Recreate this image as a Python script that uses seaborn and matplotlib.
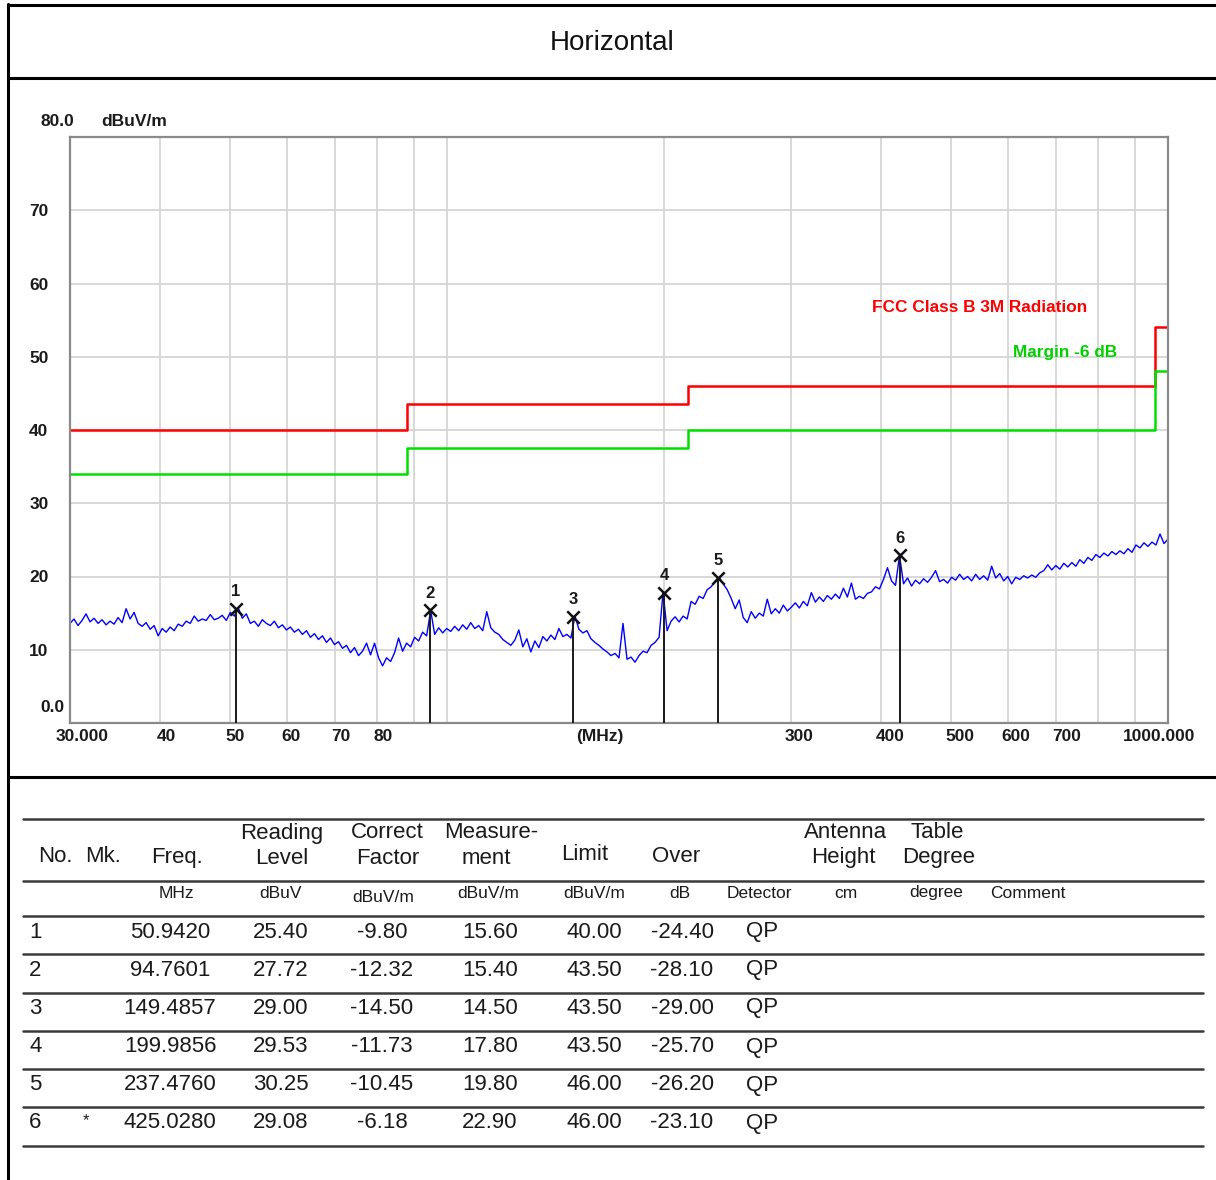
import numpy as np
import pandas as pd
import matplotlib
matplotlib.use("Agg")
import matplotlib.pyplot as plt
import matplotlib.ticker as mticker
import matplotlib.transforms as mtransforms
from matplotlib.lines import Line2D
import seaborn as sns

sns.set_theme(style="white")
plt.rcParams["font.family"] = ["Liberation Sans", "DejaVu Sans"]

# ---------------------------------------------------------------- data
# Swept peak readout in dBuV/m, one value per log-spaced sweep point, 30 MHz -> 1000 MHz
trace_level = [
    13.6, 14.2, 13.3, 14.0, 14.9, 13.8, 14.3, 13.6, 14.1, 13.4, 13.9, 13.5, 14.4,
    13.7, 15.6, 14.2, 15.1, 13.6, 13.2, 13.7, 12.8, 13.3, 11.9, 12.9, 12.4,
    13.1, 12.6, 13.5, 13.2, 13.9, 13.6, 14.6, 13.9, 14.2, 14.0, 14.8, 14.1, 14.3,
    14.7, 14.0, 15.1, 14.6, 15.7, 14.3, 14.9, 13.6, 13.9, 13.2, 14.1, 13.6,
    13.3, 13.9, 13.0, 13.4, 12.7, 13.1, 12.4, 12.8, 12.1, 12.6, 11.7, 12.2, 11.4,
    11.9, 11.0, 11.6, 10.7, 11.1, 10.2, 10.6, 9.6, 10.3, 9.2, 9.8, 10.9,
    9.3, 10.9, 8.9, 7.8, 8.9, 8.4, 9.6, 11.6, 9.8, 10.9, 10.4, 11.7, 11.2,
    12.4, 11.9, 15.4, 12.1, 13.0, 12.3, 12.9, 12.5, 13.2, 12.6, 13.4, 12.8,
    13.7, 12.9, 13.3, 12.6, 15.2, 13.0, 12.4, 12.1, 11.4, 11.0, 10.6, 11.3, 12.7,
    10.4, 11.5, 9.7, 11.2, 10.3, 11.8, 11.2, 12.0, 11.4, 12.9, 11.8, 12.1,
    11.6, 14.6, 12.8, 12.3, 12.6, 11.5, 11.0, 10.6, 10.1, 9.7, 9.2, 9.5, 8.9,
    13.6, 8.7, 9.0, 8.3, 9.2, 9.8, 9.6, 10.6, 11.0, 11.7, 17.9, 12.6,
    13.9, 14.5, 13.8, 14.6, 14.2, 16.6, 16.2, 17.3, 17.0, 18.2, 18.6, 19.4, 19.9,
    19.0, 18.2, 17.0, 15.6, 16.8, 14.4, 13.7, 15.2, 14.3, 15.0, 14.6, 16.9,
    14.9, 15.6, 15.0, 16.1, 15.3, 15.8, 16.4, 15.7, 16.6, 16.0, 17.8, 16.5, 17.2,
    16.6, 17.4, 16.9, 17.6, 17.0, 18.4, 17.2, 19.1, 16.9, 17.3, 17.0, 17.7,
    17.9, 18.6, 18.3, 19.6, 21.2, 19.4, 18.8, 22.9, 19.0, 19.8, 18.7, 19.5, 19.0,
    19.7, 19.2, 19.9, 20.8, 19.3, 19.6, 19.1, 19.9, 19.5, 20.3, 19.6, 20.0,
    19.4, 20.3, 19.6, 20.1, 19.5, 21.4, 19.8, 20.4, 19.4, 20.0, 19.0, 19.9, 19.6,
    20.1, 19.8, 20.2, 19.9, 20.5, 20.8, 21.6, 20.9, 21.5, 21.0, 21.8, 21.3,
    21.9, 21.4, 22.3, 21.8, 22.6, 22.2, 23.0, 22.6, 23.2, 22.8, 23.4, 23.0, 23.5,
    23.1, 23.8, 23.3, 24.3, 23.9, 24.6, 24.1, 24.7, 24.3, 25.8, 24.5, 25.1,
]
sweep_start_mhz, sweep_stop_mhz = 30.0, 1000.0
trace_freq = np.geomspace(sweep_start_mhz, sweep_stop_mhz, len(trace_level))

# FCC Class B, 3 m: band edges (MHz) and limit levels (dBuV/m)
limit_edges = [30, 88, 216, 960, 1000]
limit_levels = [40.0, 43.5, 46.0, 54.0]
margin_db = -6.0

# Final quasi-peak measurements
marker_no = [1, 2, 3, 4, 5, 6]
marker_mk = ["", "", "", "", "", "*"]
marker_freq = [50.9420, 94.7601, 149.4857, 199.9856, 237.4760, 425.0280]
reading_level = [25.40, 27.72, 29.00, 29.53, 30.25, 29.08]
correct_factor = [-9.80, -12.32, -14.50, -11.73, -10.45, -6.18]
measurement = [15.60, 15.40, 14.50, 17.80, 19.80, 22.90]
limit_at_marker = [40.00, 43.50, 43.50, 43.50, 46.00, 46.00]
over_limit = [-24.40, -28.10, -29.00, -25.70, -26.20, -23.10]
detector = ["QP", "QP", "QP", "QP", "QP", "QP"]

x_tick_values = [30, 40, 50, 60, 70, 80, 163, 300, 400, 500, 600, 700, 1000]
x_tick_labels = ["30.000", "40", "50", "60", "70", "80", "(MHz)",
                 "300", "400", "500", "600", "700", "1000.000"]
x_grid_values = [40, 50, 60, 70, 80, 90, 100, 200, 300, 400, 500, 600, 700, 800, 900]
y_tick_values = [10, 20, 30, 40, 50, 60, 70]
y_tick_labels = ["10", "20", "30", "40", "50", "60", "70"]

# ---------------------------------------------------------------- figure
W, H = 1216, 1180
fig = plt.figure(figsize=(W / 100, H / 100), dpi=100)
fig.patch.set_facecolor("white")


def fx(x):
    return x / W


def fy(y):
    return 1 - y / H


# page frame
for xs, ys in [([8, 8], [4, 1180]), ([8, 1216], [5, 5]),
               ([8, 1216], [78, 78]), ([8, 1216], [777, 777])]:
    fig.add_artist(Line2D([fx(v) for v in xs], [fy(v) for v in ys],
                          transform=fig.transFigure, color="black", lw=2.2))

fig.text(fx(612), fy(43), "Horizontal", ha="center", va="center",
         fontsize=20, color="#111111")

# ---------------------------------------------------------------- chart
ax = fig.add_axes([fx(70), fy(723), (1168 - 70) / W, (723 - 137) / H])
ax.set_facecolor("white")
ax.set_xscale("log")
ax.set_xlim(sweep_start_mhz, sweep_stop_mhz)
ax.set_ylim(0, 80)

tick_font = dict(fontsize=12.5, fontweight="bold", color="#1a1a1a")

ax.xaxis.remove_overlapping_locs = False
ax.set_xticks(x_tick_values, labels=x_tick_labels)
ax.set_xticks(x_grid_values, minor=True)
ax.xaxis.set_minor_formatter(mticker.NullFormatter())
ax.set_yticks(y_tick_values, labels=y_tick_labels)
ax.grid(False)
ax.grid(which="minor", axis="x", color="#d6d6d6", lw=1.3)
ax.grid(which="major", axis="y", color="#d6d6d6", lw=1.3)
ax.set_axisbelow(True)
ax.tick_params(axis="both", which="both", length=0)
ax.tick_params(axis="x", pad=4)
ax.tick_params(axis="y", pad=15.5)
for lab in ax.get_xticklabels() + ax.get_yticklabels():
    lab.set_fontsize(tick_font["fontsize"])
    lab.set_fontweight("bold")
    lab.set_color(tick_font["color"])

x_label_shift_px = [12, 6, 5, 4, 6, 6, 0, 8, 9, 9, 8, 10, -9]
for lab, dx in zip(ax.get_xticklabels(), x_label_shift_px):
    lab.set_transform(lab.get_transform() +
                      mtransforms.ScaledTranslation(dx / 100, 0, fig.dpi_scale_trans))

for side in ["left", "right", "top", "bottom"]:
    ax.spines[side].set_color("#8a8a8a")
    ax.spines[side].set_linewidth(1.6)

# limit and margin step lines
lim_df = pd.DataFrame({
    "freq": limit_edges,
    "limit": limit_levels + [limit_levels[-1]],
})
lim_df["margin"] = lim_df["limit"] + margin_db
sns.lineplot(data=lim_df, x="freq", y="limit", ax=ax, color="#ff0000", lw=1.8,
             drawstyle="steps-post", estimator=None, sort=False)
sns.lineplot(data=lim_df, x="freq", y="margin", ax=ax, color="#00e000", lw=1.8,
             drawstyle="steps-post", estimator=None, sort=False)

# emission sweep
trace_df = pd.DataFrame({"freq": trace_freq, "level": trace_level})
sns.lineplot(data=trace_df, x="freq", y="level", ax=ax, color="#0000ff", lw=1.0,
             estimator=None, sort=False)

# measurement markers
ax.vlines(marker_freq, 0, measurement, color="#1a1a1a", lw=1.4, zorder=4)
sns.scatterplot(x=marker_freq, y=measurement, ax=ax, marker="x", s=80,
                color="#111111", linewidth=1.8, zorder=6, legend=False)
for n, f, m in zip(marker_no, marker_freq, measurement):
    ax.annotate(str(n), (f, m), xytext=(0, 17), textcoords="offset pixels",
                ha="center", va="center", fontsize=12, fontweight="bold",
                color="#1a1a1a", zorder=7)

ax.set_xlabel("")
ax.set_ylabel("")

fig.text(fx(52), fy(707), "0.0", ha="center", va="center", **tick_font)
fig.text(fx(57), fy(121), "80.0", ha="center", va="center", **tick_font)
fig.text(fx(101), fy(121), "dBuV/m", ha="left", va="center", **tick_font)
fig.text(fx(872), fy(308), "FCC Class B 3M Radiation", ha="left", va="center",
         fontsize=12.4, fontweight="bold", color="#ff0000")
fig.text(fx(1013), fy(352), "Margin -6 dB", ha="left", va="center",
         fontsize=12.4, fontweight="bold", color="#00d000")

# ---------------------------------------------------------------- table
for y in [819, 881, 916, 954, 993, 1031, 1069, 1107, 1146]:
    fig.add_artist(Line2D([fx(23), fx(1203)], [fy(y), fy(y)],
                          transform=fig.transFigure, color="#3a3a3a", lw=1.8))

hdr = dict(fontsize=16, color="#1a1a1a", va="center")
unit = dict(fontsize=12.5, color="#1a1a1a", va="center", ha="center")

fig.text(fx(55), fy(857), "No.", ha="center", **hdr)
fig.text(fx(103), fy(857), "Mk.", ha="center", **hdr)
fig.text(fx(177), fy(857), "Freq.", ha="center", **hdr)
fig.text(fx(282), fy(833), "Reading", ha="center", **hdr)
fig.text(fx(282), fy(858), "Level", ha="center", **hdr)
fig.text(fx(387), fy(833), "Correct", ha="center", **hdr)
fig.text(fx(388), fy(858), "Factor", ha="center", **hdr)
fig.text(fx(491), fy(833), "Measure-", ha="center", **hdr)
fig.text(fx(486), fy(858), "ment", ha="center", **hdr)
fig.text(fx(585), fy(855), "Limit", ha="center", **hdr)
fig.text(fx(676), fy(856), "Over", ha="center", **hdr)
fig.text(fx(846), fy(833), "Antenna", ha="center", **hdr)
fig.text(fx(843), fy(858), "Height", ha="center", **hdr)
fig.text(fx(937), fy(833), "Table", ha="center", **hdr)
fig.text(fx(939), fy(858), "Degree", ha="center", **hdr)

fig.text(fx(176), fy(893), "MHz", **unit)
fig.text(fx(280), fy(893), "dBuV", **unit)
fig.text(fx(383), fy(898), "dBuV/m", **unit)
fig.text(fx(488), fy(893), "dBuV/m", **unit)
fig.text(fx(594), fy(893), "dBuV/m", **unit)
fig.text(fx(680), fy(893), "dB", **unit)
fig.text(fx(759), fy(893), "Detector", **unit)
fig.text(fx(846), fy(894), "cm", **unit)
fig.text(fx(936), fy(893), "degree", **unit)
fig.text(fx(1028), fy(893), "Comment", **unit)

row_y = [932, 970, 1008, 1047, 1085, 1123]
for i, y in enumerate(row_y):
    fig.text(fx(29), fy(y), str(marker_no[i]), ha="left", **hdr)
    if marker_mk[i]:
        fig.text(fx(86), fy(y - 2), marker_mk[i], ha="center", fontsize=12,
                 color="#1a1a1a", va="center")
    fig.text(fx(170), fy(y), f"{marker_freq[i]:.4f}", ha="center", **hdr)
    fig.text(fx(281), fy(y), f"{reading_level[i]:.2f}", ha="center", **hdr)
    fig.text(fx(382), fy(y), f"{correct_factor[i]:.2f}", ha="center", **hdr)
    fig.text(fx(490), fy(y), f"{measurement[i]:.2f}", ha="center", **hdr)
    fig.text(fx(594), fy(y), f"{limit_at_marker[i]:.2f}", ha="center", **hdr)
    fig.text(fx(682), fy(y), f"{over_limit[i]:.2f}", ha="center", **hdr)
    fig.text(fx(762), fy(y), detector[i], ha="center", **hdr)

fig.savefig("out.png", dpi=100, facecolor="white")
